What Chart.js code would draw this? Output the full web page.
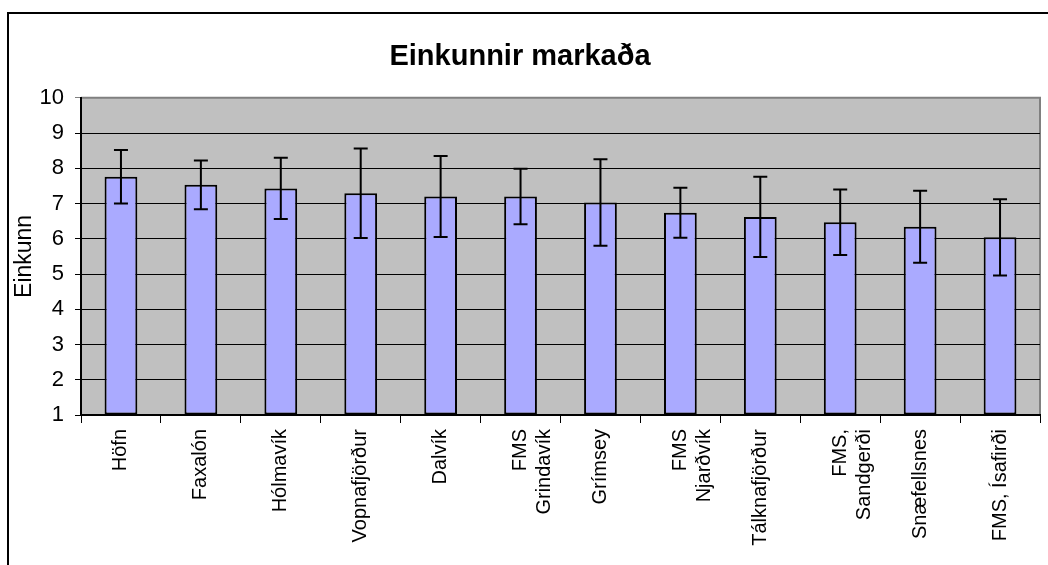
<!DOCTYPE html>
<html>
<head>
<meta charset="utf-8">
<script src="https://cdn.jsdelivr.net/npm/chart.js@4/dist/chart.umd.min.js"></script>
<style>
  html, body { margin: 0; padding: 0; background: #fff; }
  #wrap { width: 1048px; height: 565px; position: relative; }
</style>
</head>
<body>
<div id="wrap"><canvas id="myChart"></canvas></div>
<script>
// Gögn
const stadir = ['Höfn', 'Faxalón', 'Hólmavík', 'Vopnafjörður', 'Dalvík', ['FMS', 'Grindavík'],
    'Grímsey', ['FMS', 'Njarðvík'], 'Tálknafjörður', ['FMS,', 'Sandgerði'], 'Snæfellsnes', 'FMS, Ísafirði'];
const einkunn = [7.76, 7.53, 7.43, 7.29, 7.20, 7.20, 7.03, 6.74, 6.62, 6.47, 6.34, 6.04];
const skekkja = [0.76, 0.69, 0.87, 1.27, 1.15, 0.79, 1.23, 0.71, 1.14, 0.93, 1.02, 1.08];
const yTicks = [1, 2, 3, 4, 5, 6, 7, 8, 9, 10];

const FONT = "'Liberation Sans', Arial, sans-serif";

// grár bakgrunnur og rammi
const bakgrunnur = {
    id: 'bakgrunnur',
    beforeDraw(chart) {
        const c = chart.ctx;
        const a = chart.chartArea;
        c.save();
        c.fillStyle = '#C0C0C0';
        c.fillRect(a.left, a.top, a.right - a.left, a.bottom - a.top);
        c.strokeStyle = '#808080';
        c.lineWidth = 2;
        c.beginPath();
        c.moveTo(a.left, a.top);
        c.lineTo(a.right, a.top);
        c.lineTo(a.right, a.bottom);
        c.stroke();
        // ytri rammi
        c.strokeStyle = '#000';
        c.lineWidth = 2;
        c.beginPath();
        c.moveTo(8, 570);
        c.lineTo(8, 13);
        c.lineTo(1050, 13);
        c.stroke();
        c.restore();
    }
};

// skekkjustrik
const skekkjustrik = {
    id: 'skekkjustrik',
    afterDatasetsDraw(chart) {
        const c = chart.ctx;
        const y = chart.scales.y;
        const meta = chart.getDatasetMeta(0);
        c.save();
        c.strokeStyle = '#000';
        c.lineWidth = 2;
        for (let i = 0; i < meta.data.length; i++) {
            const x = meta.data[i].x;
            const hi = y.getPixelForValue(einkunn[i] + skekkja[i]);
            const lo = y.getPixelForValue(einkunn[i] - skekkja[i]);
            c.beginPath();
            c.moveTo(x, hi); c.lineTo(x, lo);
            c.moveTo(x - 7, hi); c.lineTo(x + 7, hi);
            c.moveTo(x - 7, lo); c.lineTo(x + 7, lo);
            c.stroke();
        }
        c.restore();
    }
};

const ctx = document.getElementById('myChart');
new Chart(ctx, {
    type: 'bar',
    data: {
        labels: stadir,
        datasets: [{
            label: 'Einkunn',
            data: einkunn,
            base: 1,
            backgroundColor: '#AAAAFF',
            borderColor: '#000',
            borderWidth: 2,
            borderSkipped: false,
            barPercentage: 0.41,
            categoryPercentage: 1
        }]
    },
    options: {
        responsive: true,
        maintainAspectRatio: false,
        animation: false,
        layout: { padding: { left: 0, right: 8, top: 0, bottom: 0 } },
        plugins: {
            legend: { display: false },
            tooltip: { enabled: false },
            title: {
                display: true,
                text: 'Einkunnir markaða',
                color: '#000',
                font: { family: FONT, size: 29, weight: 'bold' },
                padding: { top: 40, bottom: 23 }
            }
        },
        scales: {
            x: {
                grid: {
                    display: true,
                    drawOnChartArea: false,
                    offset: true,
                    tickLength: 8,
                    color: '#000',
                    lineWidth: 1
                },
                border: { color: '#000', width: 2 },
                ticks: {
                    autoSkip: false,
                    maxRotation: 90,
                    minRotation: 90,
                    padding: 6,
                    color: '#000',
                    font: { family: FONT, size: 20 }
                },
                afterFit(scale) { scale.height = 150; }
            },
            y: {
                min: 1,
                max: 10,
                afterBuildTicks(scale) { scale.ticks = yTicks.map(v => ({ value: v })); },
                grid: {
                    color: c => c.tick && c.tick.value === 10 ? '#808080' : '#000',
                    lineWidth: 1,
                    tickLength: 6
                },
                border: { color: '#000', width: 2 },
                ticks: {
                    padding: 11,
                    color: '#000',
                    font: { family: FONT, size: 22 }
                },
                title: {
                    display: true,
                    text: 'Einkunn',
                    color: '#000',
                    font: { family: FONT, size: 23 },
                    padding: { top: 11, bottom: 0 }
                },
                afterFit(scale) { scale.width = 81; }
            }
        }
    },
    plugins: [bakgrunnur, skekkjustrik]
});
</script>
</body>
</html>
